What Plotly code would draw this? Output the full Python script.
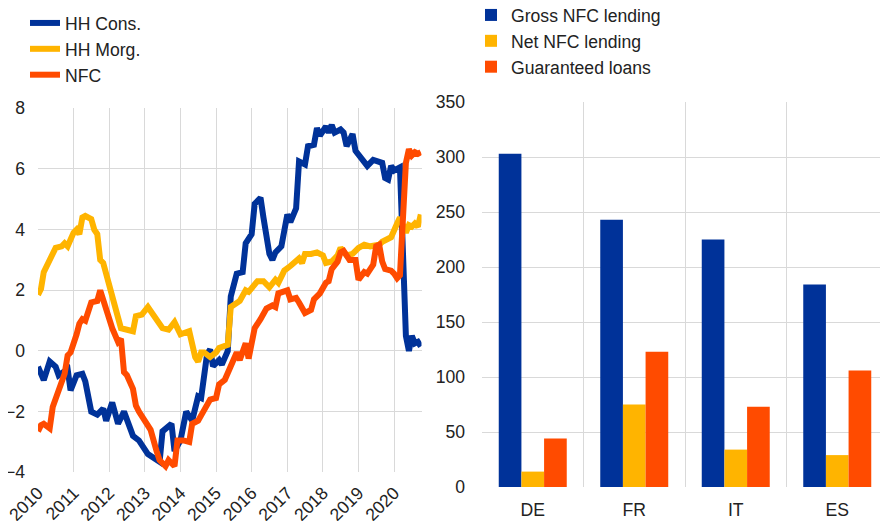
import plotly.graph_objects as go

# ---------------- Left panel data (annual growth rates, %) ----------------
cons_dates = ["2010-01","2010-03","2010-05","2010-07","2010-08","2010-11","2010-12","2011-02","2011-04","2011-05",
              "2011-07","2011-09","2011-11","2011-12","2012-02","2012-04","2012-06","2012-09","2012-11","2013-02",
              "2013-06","2013-07","2013-10","2013-11","2014-01","2014-03","2014-05","2014-07","2014-08","2014-10",
              "2014-11","2014-12","2015-02","2015-03","2015-05","2015-06","2015-08","2015-10","2015-11","2016-01",
              "2016-02","2016-04","2016-05","2016-07","2016-08","2016-09","2016-11","2017-01","2017-02","2017-04",
              "2017-05","2017-07","2017-08","2017-10","2017-11","2017-12","2018-02","2018-03","2018-04","2018-05",
              "2018-07","2018-08","2018-09","2018-11","2018-12","2019-03","2019-04","2019-06","2019-08","2019-09",
              "2019-10","2019-11","2019-12","2020-01","2020-03","2020-04","2020-05","2020-06","2020-07","2020-08",
              "2020-09","2020-10"]
cons_vals = [-0.52,-0.96,-0.35,-0.52,-0.8,-0.6,-1.3,-0.8,-0.75,-1.0,
             -2.0,-2.1,-1.9,-2.3,-1.7,-2.4,-2.0,-2.8,-2.95,-3.4,
             -3.65,-2.65,-2.4,-3.3,-2.95,-2.0,-2.3,-1.5,-1.55,-0.1,
             0.05,-0.5,-0.3,-0.45,0.0,1.8,2.55,2.6,3.55,3.85,
             4.85,5.05,4.4,3.2,3.0,3.25,3.45,4.5,4.25,4.7,
             6.25,6.15,6.75,6.8,7.35,7.1,7.4,7.2,7.45,7.2,
             7.3,7.2,6.75,7.15,6.6,6.2,6.1,6.3,6.2,6.2,
             5.7,5.65,6.1,5.95,6.05,3.0,0.5,0.0,0.5,0.25,
             0.3,0.15]

morg_dates = ["2010-01","2010-02","2010-03","2010-06","2010-07","2010-09","2010-10","2010-11","2011-01","2011-02",
              "2011-03","2011-04","2011-05","2011-07","2011-08","2011-09","2011-10","2011-11","2012-01","2012-02",
              "2012-04","2012-05","2012-07","2012-09","2012-10","2012-12","2013-02","2013-05","2013-07","2013-09",
              "2013-11","2014-01","2014-04","2014-06","2014-07","2014-08","2014-09","2014-11","2015-01","2015-02",
              "2015-05","2015-06","2015-07","2015-09","2015-11","2015-12","2016-03","2016-05","2016-07","2016-09",
              "2016-10","2016-12","2017-02","2017-05","2017-06","2017-07","2017-09","2017-11","2018-01","2018-02",
              "2018-04","2018-06","2018-07","2018-09","2018-11","2019-01","2019-03","2019-05","2019-08","2019-09",
              "2019-11","2019-12","2020-02","2020-03","2020-05","2020-06","2020-07","2020-08","2020-09","2020-10"]
morg_vals = [1.85,2.05,2.6,3.25,3.4,3.45,3.55,3.45,3.9,4.0,
             3.85,4.4,4.45,4.35,4.0,3.85,3.0,2.9,2.1,1.7,
             1.1,0.75,0.7,0.65,1.15,1.2,1.45,1.05,0.75,0.7,
             0.95,0.55,0.65,-0.2,-0.35,-0.05,-0.05,-0.2,-0.05,0.1,
             0.2,1.45,1.5,1.65,2.0,1.95,2.3,2.3,2.1,2.35,
             2.25,2.65,2.8,3.05,2.9,3.2,3.2,3.25,3.15,2.9,
             2.95,3.15,3.4,3.15,3.2,3.4,3.5,3.45,3.5,3.6,
             3.7,3.75,4.2,4.4,3.9,4.15,4.1,4.2,4.1,4.5]

nfc_dates = ["2010-01","2010-02","2010-03","2010-05","2010-06","2010-08","2010-10","2010-11","2010-12","2011-02",
             "2011-03","2011-04","2011-05","2011-07","2011-08","2011-09","2011-10","2011-12","2012-02","2012-04",
             "2012-05","2012-06","2012-07","2012-09","2012-10","2012-11","2013-01","2013-02","2013-03","2013-05",
             "2013-06","2013-08","2013-09","2013-11","2013-12","2014-02","2014-04","2014-05","2014-07","2014-09",
             "2014-11","2015-01","2015-02","2015-04","2015-06","2015-08","2015-09","2015-11","2015-12","2016-02",
             "2016-04","2016-06","2016-08","2016-09","2016-10","2017-01","2017-02","2017-04","2017-05","2017-07",
             "2017-09","2017-10","2017-12","2018-02","2018-03","2018-04","2018-06","2018-07","2018-08","2018-10",
             "2018-12","2019-01","2019-03","2019-04","2019-06","2019-07","2019-08","2019-09","2019-10","2019-12",
             "2020-01","2020-02","2020-03","2020-04","2020-05","2020-06","2020-07","2020-08","2020-09","2020-10"]
nfc_vals = [-2.65,-2.45,-2.4,-2.55,-1.85,-1.35,-0.75,-0.15,-0.05,0.55,
            0.9,1.05,1.0,1.6,1.65,1.65,2.0,1.3,0.75,0.3,
            0.4,-0.7,-0.8,-1.25,-1.8,-2.0,-2.35,-2.5,-2.6,-3.3,
            -3.6,-3.8,-3.6,-3.8,-2.95,-2.95,-3.0,-2.4,-2.3,-1.95,
            -1.6,-1.55,-1.1,-0.95,-0.55,-0.05,-0.3,0.25,-0.25,0.75,
            1.05,1.4,1.5,1.45,1.9,2.0,1.7,1.75,1.6,1.25,
            1.35,1.7,1.9,2.25,2.3,2.7,2.95,3.25,3.3,3.0,
            3.0,2.35,2.6,2.55,2.85,3.45,3.5,2.95,2.7,2.65,
            2.55,2.4,2.5,4.7,6.2,6.65,6.45,6.55,6.5,6.55]

year_ticks = ["2010","2011","2012","2013","2014","2015","2016","2017","2018","2019","2020"]

# ---------------- Right panel data (EUR bn) ----------------
countries = ["DE", "FR", "IT", "ES"]
gross_nfc = [303, 243, 225, 184]
net_nfc = [14, 75, 34, 29]
guaranteed = [44, 123, 73, 106]

BLUE = "#003299"
YELLOW = "#FFB400"
ORANGE = "#FF4B00"
GRID = "#d9d9d9"
TXT = "#222222"
# The page body has an 8px margin, so the figure is 8px smaller than the window
W, H = 880, 513
FS = 17.6

fig = go.Figure()
for name, d, v, c in [("HH Cons.", cons_dates, cons_vals, BLUE),
                      ("HH Morg.", morg_dates, morg_vals, YELLOW),
                      ("NFC", nfc_dates, nfc_vals, ORANGE)]:
    fig.add_trace(go.Scatter(x=d, y=v, name=name, mode="lines",
                             line=dict(color=c, width=6),
                             xaxis="x", yaxis="y", legend="legend"))

for name, v, c in [("Gross NFC lending", gross_nfc, BLUE),
                   ("Net NFC lending", net_nfc, YELLOW),
                   ("Guaranteed loans", guaranteed, ORANGE)]:
    fig.add_trace(go.Bar(x=countries, y=v, name=name, marker=dict(color=c, line=dict(width=0)),
                         xaxis="x2", yaxis="y2", legend="legend2"))

fig.update_layout(
    width=W, height=H,
    margin=dict(l=0, r=0, t=0, b=0, autoexpand=False),
    paper_bgcolor="white", plot_bgcolor="white",
    font=dict(family="Arial, Liberation Sans, sans-serif", size=FS, color=TXT),
    barmode="group", bargap=0.33, bargroupgap=0,
    xaxis=dict(domain=[30 / W, 413.5 / W], anchor="y", type="date", automargin=False,
               range=["2010-01-01", "2020-10-08"],
               tickvals=[y + "-01-01" for y in year_ticks], ticktext=year_ticks,
               tickangle=-45, ticklabeloverflow="allow", ticklabelstandoff=6,
               showgrid=True, gridcolor=GRID, gridwidth=1,
               zeroline=False, showline=False, ticks=""),
    yaxis=dict(domain=[1 - 464.3 / H, 1 - 100.3 / H], anchor="x", automargin=False,
               range=[-4, 8], dtick=2, tick0=0, showgrid=True, gridcolor=GRID,
               zeroline=False, showline=False, ticks="", ticklabelstandoff=12,
               ticklabeloverflow="allow"),
    xaxis2=dict(domain=[474 / W, 1.0], anchor="y2", type="category", automargin=False,
                tickson="boundaries", showgrid=True, gridcolor=GRID,
                zeroline=False, showline=False, ticks="", ticklabelstandoff=10,
                ticklabeloverflow="allow"),
    yaxis2=dict(domain=[1 - 479 / H, 1 - 94 / H], anchor="x2", automargin=False,
                range=[0, 350], dtick=50, showgrid=True, gridcolor=GRID,
                zeroline=False, showline=False, ticks="", ticklabelstandoff=16),
    legend=dict(x=17 / W, y=1 + 3 / H, xanchor="left", yanchor="top",
                bgcolor="rgba(0,0,0,0)", font=dict(size=FS), tracegroupgap=0),
    legend2=dict(x=463 / W, y=1 + 11 / H, xanchor="left", yanchor="top",
                 bgcolor="rgba(0,0,0,0)", font=dict(size=FS), tracegroupgap=0),
)

fig.write_html("out.html")
